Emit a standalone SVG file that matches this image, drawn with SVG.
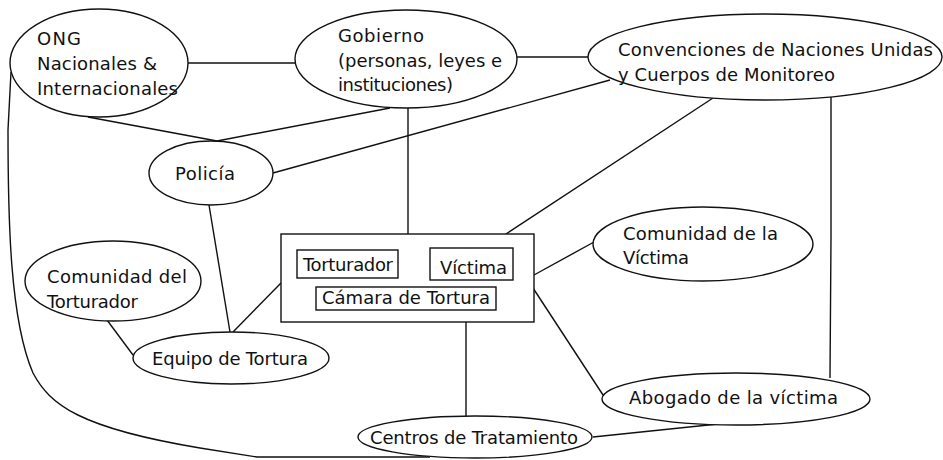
<svg xmlns="http://www.w3.org/2000/svg" width="943" height="460" viewBox="0 0 943 460">
<style>
.n{fill:#fff;stroke:#111;stroke-width:1.4}
.c{fill:none;stroke:#111;stroke-width:1.4}
text{font-family:"DejaVu Sans",sans-serif;font-size:18px;fill:#111}
</style>
<rect width="943" height="460" fill="#fff"/>
<g id="connectors" class="c">
<path d="M188,63 L296,63"/>
<path d="M517,57 L588,57"/>
<path d="M88,117 L217,141"/>
<path d="M217,141 L390,108"/>
<path d="M273,173 L610,80"/>
<path d="M408,108 L408,234"/>
<path d="M506,234 L713,98"/>
<path d="M831,97 L831,237 L830,378"/>
<path d="M534,275 L594,242"/>
<path d="M533,288 L603,395"/>
<path d="M466,322 L466,416"/>
<path d="M593,437 L718,424"/>
<path d="M209,205 L230,332"/>
<path d="M281,283 L233,332"/>
<path d="M107,320 L133,355"/>
<path d="M398,266 L430,266"/>
<path d="M11,72 L8,130 C8,220 10,320 33,373 C50,405 80,428 200,448 L257,457 L430,457"/>
</g>
<g id="ong"><ellipse class="n" cx="99" cy="63" rx="89" ry="54"/>
<text x="37" y="45" textLength="44">ONG</text><text x="37" y="70" textLength="120">Nacionales &amp;</text><text x="37" y="95" textLength="141">Internacionales</text></g>
<g id="gobierno"><ellipse class="n" cx="406" cy="59" rx="111" ry="49"/>
<text x="338" y="42" textLength="86">Gobierno</text><text x="338" y="67" textLength="164">(personas, leyes e</text><text x="338" y="91" textLength="115">instituciones)</text></g>
<g id="convenciones"><ellipse class="n" cx="765" cy="57" rx="177" ry="43"/>
<text x="618" y="56" textLength="315">Convenciones de Naciones Unidas</text><text x="618" y="81" textLength="217">y Cuerpos de Monitoreo</text></g>
<g id="policia"><ellipse class="n" cx="211" cy="173" rx="62" ry="32"/>
<text x="175" y="180" textLength="60">Policía</text></g>
<g id="comunidad-torturador"><ellipse class="n" cx="113" cy="281" rx="88" ry="40"/>
<text x="47" y="283" textLength="140">Comunidad del</text><text x="47" y="308" textLength="91">Torturador</text></g>
<g id="equipo"><ellipse class="n" cx="231" cy="358" rx="98" ry="26"/>
<text x="152" y="365" textLength="156">Equipo de Tortura</text></g>
<g id="camara">
<rect class="n" x="281" y="234" width="253" height="88"/>
<g id="torturador"><rect class="n" x="297" y="250" width="101" height="28"/><text x="303" y="271" textLength="90">Torturador</text></g>
<g id="victima"><rect class="n" x="430" y="248" width="83" height="32"/><text x="440" y="274" textLength="67">Víctima</text></g>
<g id="camara-label"><rect class="n" x="316" y="287" width="180" height="23"/><text x="322" y="304" textLength="168">Cámara de Tortura</text></g>
</g>
<g id="comunidad-victima"><ellipse class="n" cx="703" cy="244" rx="110" ry="37"/>
<text x="623" y="240" textLength="155">Comunidad de la</text><text x="623" y="264" textLength="66">Víctima</text></g>
<g id="abogado"><ellipse class="n" cx="736" cy="399" rx="134" ry="26"/>
<text x="629" y="404" textLength="209">Abogado de la víctima</text></g>
<g id="centros"><ellipse class="n" cx="475" cy="437" rx="117" ry="21"/>
<text x="370" y="444" textLength="208">Centros de Tratamiento</text></g>
</svg>
